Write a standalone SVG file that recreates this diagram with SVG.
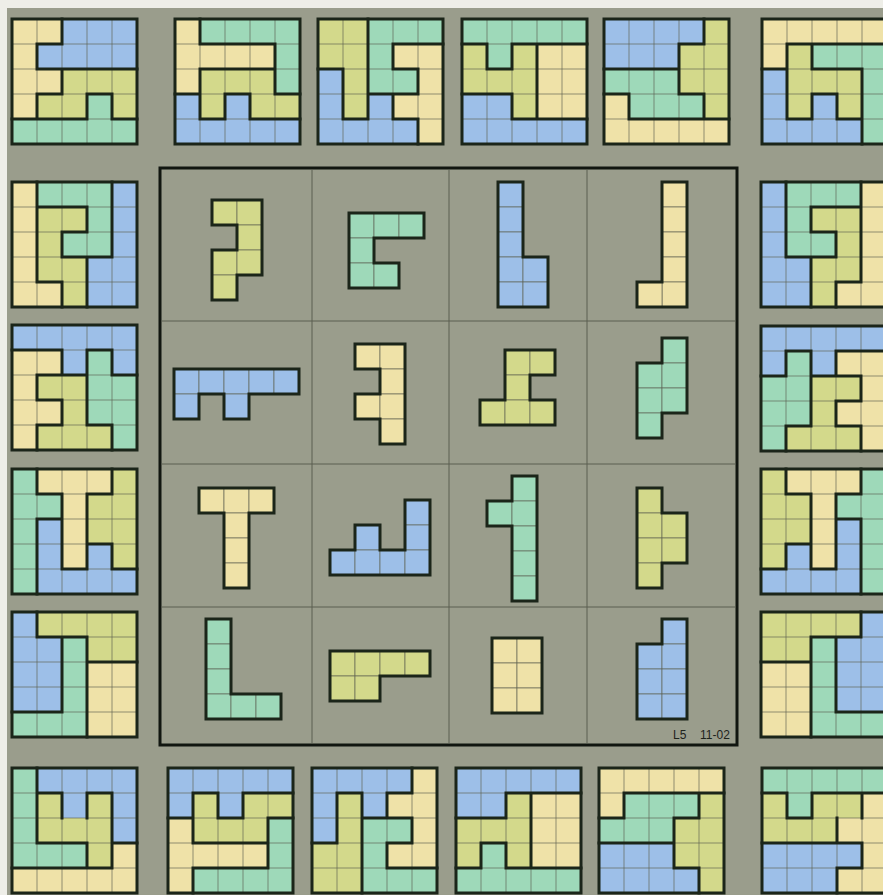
<svg xmlns="http://www.w3.org/2000/svg" xmlns:xlink="http://www.w3.org/1999/xlink" width="883" height="895" viewBox="0 0 883 895">
<style>
.Y{fill:#efe2a8}.B{fill:#9dbfe8}.G{fill:#9ed9b9}.L{fill:#d3d98b}
.grid{fill:none;stroke:#5d6152;stroke-opacity:.65;stroke-width:1;vector-effect:non-scaling-stroke}
.thick{fill:none;stroke:#1b2519;stroke-width:3;stroke-linecap:square;vector-effect:non-scaling-stroke}
.pc rect{stroke:#5d6152;stroke-opacity:.65;stroke-width:1;vector-effect:non-scaling-stroke}
.div{stroke:#5a5e50;stroke-width:1;fill:none}
.lbl{font-family:"Liberation Sans",Arial,sans-serif;font-size:12px;fill:#1e231c}
</style>
<defs>
<path id="g5" class="grid" d="M0 1H5M0 2H5M0 3H5M0 4H5M1 0V5M2 0V5M3 0V5M4 0V5"/>
<rect id="fr" class="thick" x="0" y="0" width="5" height="5"/>
</defs>
<rect x="0" y="0" width="883" height="895" fill="#9a9d8c"/>
<rect x="0" y="0" width="883" height="8" fill="#eeeee8"/>
<rect x="0" y="0" width="7" height="895" fill="#eeeee8"/>

<!-- top row -->
<g id="board-t1" transform="translate(12 19) scale(25)">
<rect class="Y" x="0" y="0" width="2" height="1"/><rect class="B" x="2" y="0" width="3" height="1"/>
<rect class="Y" x="0" y="1" width="1" height="1"/><rect class="B" x="1" y="1" width="4" height="1"/>
<rect class="Y" x="0" y="2" width="2" height="1"/><rect class="L" x="2" y="2" width="3" height="1"/>
<rect class="Y" x="0" y="3" width="1" height="1"/><rect class="L" x="1" y="3" width="2" height="1"/><rect class="G" x="3" y="3" width="1" height="1"/><rect class="L" x="4" y="3" width="1" height="1"/>
<rect class="G" x="0" y="4" width="5" height="1"/>
<use xlink:href="#g5"/>
<path class="thick" d="M1 1H2M1 2H5M1 3H2M3 3H4M0 4H3M4 4H5M1 1V2M1 3V4M2 0V1M2 2V3M3 3V4M4 3V4"/>
<use xlink:href="#fr"/>
</g>
<g id="board-t2" transform="translate(175 19) scale(25)">
<rect class="Y" x="0" y="0" width="1" height="1"/><rect class="G" x="1" y="0" width="4" height="1"/>
<rect class="Y" x="0" y="1" width="4" height="1"/><rect class="G" x="4" y="1" width="1" height="1"/>
<rect class="Y" x="0" y="2" width="1" height="1"/><rect class="L" x="1" y="2" width="3" height="1"/><rect class="G" x="4" y="2" width="1" height="1"/>
<rect class="B" x="0" y="3" width="1" height="1"/><rect class="L" x="1" y="3" width="1" height="1"/><rect class="B" x="2" y="3" width="1" height="1"/><rect class="L" x="3" y="3" width="2" height="1"/>
<rect class="B" x="0" y="4" width="5" height="1"/>
<use xlink:href="#g5"/>
<path class="thick" d="M1 1H4M1 2H4M0 3H1M2 3H3M4 3H5M1 4H2M3 4H5M1 0V1M1 2V4M2 3V4M3 3V4M4 1V3"/>
<use xlink:href="#fr"/>
</g>
<g id="board-t3" transform="translate(318 19) scale(25)">
<rect class="L" x="0" y="0" width="2" height="1"/><rect class="G" x="2" y="0" width="3" height="1"/>
<rect class="L" x="0" y="1" width="2" height="1"/><rect class="G" x="2" y="1" width="1" height="1"/><rect class="Y" x="3" y="1" width="2" height="1"/>
<rect class="B" x="0" y="2" width="1" height="1"/><rect class="L" x="1" y="2" width="1" height="1"/><rect class="G" x="2" y="2" width="2" height="1"/><rect class="Y" x="4" y="2" width="1" height="1"/>
<rect class="B" x="0" y="3" width="1" height="1"/><rect class="L" x="1" y="3" width="1" height="1"/><rect class="B" x="2" y="3" width="1" height="1"/><rect class="Y" x="3" y="3" width="2" height="1"/>
<rect class="B" x="0" y="4" width="4" height="1"/><rect class="Y" x="4" y="4" width="1" height="1"/>
<use xlink:href="#g5"/>
<path class="thick" d="M3 1H5M0 2H1M3 2H4M2 3H4M1 4H2M3 4H4M1 2V4M2 0V4M3 1V2M3 3V4M4 2V3M4 4V5"/>
<use xlink:href="#fr"/>
</g>
<g id="board-t4" transform="translate(462 19) scale(25)">
<rect class="G" x="0" y="0" width="5" height="1"/>
<rect class="L" x="0" y="1" width="1" height="1"/><rect class="G" x="1" y="1" width="1" height="1"/><rect class="L" x="2" y="1" width="1" height="1"/><rect class="Y" x="3" y="1" width="2" height="1"/>
<rect class="L" x="0" y="2" width="3" height="1"/><rect class="Y" x="3" y="2" width="2" height="1"/>
<rect class="B" x="0" y="3" width="2" height="1"/><rect class="L" x="2" y="3" width="1" height="1"/><rect class="Y" x="3" y="3" width="2" height="1"/>
<rect class="B" x="0" y="4" width="5" height="1"/>
<use xlink:href="#g5"/>
<path class="thick" d="M0 1H1M2 1H5M1 2H2M0 3H2M2 4H5M1 1V2M2 1V2M2 3V4M3 1V4"/>
<use xlink:href="#fr"/>
</g>
<g id="board-t5" transform="translate(604 19) scale(25)">
<rect class="B" x="0" y="0" width="4" height="1"/><rect class="L" x="4" y="0" width="1" height="1"/>
<rect class="B" x="0" y="1" width="3" height="1"/><rect class="L" x="3" y="1" width="2" height="1"/>
<rect class="G" x="0" y="2" width="3" height="1"/><rect class="L" x="3" y="2" width="2" height="1"/>
<rect class="Y" x="0" y="3" width="1" height="1"/><rect class="G" x="1" y="3" width="3" height="1"/><rect class="L" x="4" y="3" width="1" height="1"/>
<rect class="Y" x="0" y="4" width="5" height="1"/>
<use xlink:href="#g5"/>
<path class="thick" d="M3 1H4M0 2H3M0 3H1M3 3H4M1 4H5M1 3V4M3 1V3M4 0V1M4 3V4"/>
<use xlink:href="#fr"/>
</g>
<g id="board-t6" transform="translate(762 19) scale(25)">
<rect class="Y" x="0" y="0" width="5" height="1"/>
<rect class="Y" x="0" y="1" width="1" height="1"/><rect class="L" x="1" y="1" width="1" height="1"/><rect class="G" x="2" y="1" width="3" height="1"/>
<rect class="B" x="0" y="2" width="1" height="1"/><rect class="L" x="1" y="2" width="3" height="1"/><rect class="G" x="4" y="2" width="1" height="1"/>
<rect class="B" x="0" y="3" width="1" height="1"/><rect class="L" x="1" y="3" width="1" height="1"/><rect class="B" x="2" y="3" width="1" height="1"/><rect class="L" x="3" y="3" width="1" height="1"/><rect class="G" x="4" y="3" width="1" height="1"/>
<rect class="B" x="0" y="4" width="4" height="1"/><rect class="G" x="4" y="4" width="1" height="1"/>
<use xlink:href="#g5"/>
<path class="thick" d="M1 1H5M0 2H1M2 2H4M2 3H3M1 4H2M3 4H4M1 1V4M2 1V2M2 3V4M3 3V4M4 2V5"/>
<use xlink:href="#fr"/>
</g>

<!-- left column -->
<g id="board-l1" transform="translate(12 182) scale(25)">
<rect class="Y" x="0" y="0" width="1" height="1"/><rect class="G" x="1" y="0" width="3" height="1"/><rect class="B" x="4" y="0" width="1" height="1"/>
<rect class="Y" x="0" y="1" width="1" height="1"/><rect class="L" x="1" y="1" width="2" height="1"/><rect class="G" x="3" y="1" width="1" height="1"/><rect class="B" x="4" y="1" width="1" height="1"/>
<rect class="Y" x="0" y="2" width="1" height="1"/><rect class="L" x="1" y="2" width="1" height="1"/><rect class="G" x="2" y="2" width="2" height="1"/><rect class="B" x="4" y="2" width="1" height="1"/>
<rect class="Y" x="0" y="3" width="1" height="1"/><rect class="L" x="1" y="3" width="2" height="1"/><rect class="B" x="3" y="3" width="2" height="1"/>
<rect class="Y" x="0" y="4" width="2" height="1"/><rect class="L" x="2" y="4" width="1" height="1"/><rect class="B" x="3" y="4" width="2" height="1"/>
<use xlink:href="#g5"/>
<path class="thick" d="M1 1H3M2 2H3M2 3H4M1 4H2M1 0V4M2 2V3M2 4V5M3 1V2M3 3V5M4 0V3"/>
<use xlink:href="#fr"/>
</g>
<g id="board-l2" transform="translate(12 325) scale(25)">
<rect class="B" x="0" y="0" width="5" height="1"/>
<rect class="Y" x="0" y="1" width="2" height="1"/><rect class="B" x="2" y="1" width="1" height="1"/><rect class="G" x="3" y="1" width="1" height="1"/><rect class="B" x="4" y="1" width="1" height="1"/>
<rect class="Y" x="0" y="2" width="1" height="1"/><rect class="L" x="1" y="2" width="2" height="1"/><rect class="G" x="3" y="2" width="2" height="1"/>
<rect class="Y" x="0" y="3" width="2" height="1"/><rect class="L" x="2" y="3" width="1" height="1"/><rect class="G" x="3" y="3" width="2" height="1"/>
<rect class="Y" x="0" y="4" width="1" height="1"/><rect class="L" x="1" y="4" width="3" height="1"/><rect class="G" x="4" y="4" width="1" height="1"/>
<use xlink:href="#g5"/>
<path class="thick" d="M0 1H2M3 1H4M1 2H3M4 2H5M1 3H2M1 4H2M3 4H4M1 2V3M1 4V5M2 1V2M2 3V4M3 1V4M4 1V2M4 4V5"/>
<use xlink:href="#fr"/>
</g>
<g id="board-l3" transform="translate(12 469) scale(25)">
<rect class="G" x="0" y="0" width="1" height="1"/><rect class="Y" x="1" y="0" width="3" height="1"/><rect class="L" x="4" y="0" width="1" height="1"/>
<rect class="G" x="0" y="1" width="2" height="1"/><rect class="Y" x="2" y="1" width="1" height="1"/><rect class="L" x="3" y="1" width="2" height="1"/>
<rect class="G" x="0" y="2" width="1" height="1"/><rect class="B" x="1" y="2" width="1" height="1"/><rect class="Y" x="2" y="2" width="1" height="1"/><rect class="L" x="3" y="2" width="2" height="1"/>
<rect class="G" x="0" y="3" width="1" height="1"/><rect class="B" x="1" y="3" width="1" height="1"/><rect class="Y" x="2" y="3" width="1" height="1"/><rect class="B" x="3" y="3" width="1" height="1"/><rect class="L" x="4" y="3" width="1" height="1"/>
<rect class="G" x="0" y="4" width="1" height="1"/><rect class="B" x="1" y="4" width="4" height="1"/>
<use xlink:href="#g5"/>
<path class="thick" d="M1 1H2M3 1H4M1 2H2M3 3H4M2 4H3M4 4H5M1 0V1M1 2V5M2 1V4M3 1V4M4 0V1M4 3V4"/>
<use xlink:href="#fr"/>
</g>
<g id="board-l4" transform="translate(12 612) scale(25)">
<rect class="B" x="0" y="0" width="1" height="1"/><rect class="L" x="1" y="0" width="4" height="1"/>
<rect class="B" x="0" y="1" width="2" height="1"/><rect class="G" x="2" y="1" width="1" height="1"/><rect class="L" x="3" y="1" width="2" height="1"/>
<rect class="B" x="0" y="2" width="2" height="1"/><rect class="G" x="2" y="2" width="1" height="1"/><rect class="Y" x="3" y="2" width="2" height="1"/>
<rect class="B" x="0" y="3" width="2" height="1"/><rect class="G" x="2" y="3" width="1" height="1"/><rect class="Y" x="3" y="3" width="2" height="1"/>
<rect class="G" x="0" y="4" width="3" height="1"/><rect class="Y" x="3" y="4" width="2" height="1"/>
<use xlink:href="#g5"/>
<path class="thick" d="M1 1H3M3 2H5M0 4H2M1 0V1M2 1V4M3 1V5"/>
<use xlink:href="#fr"/>
</g>

<!-- right column -->
<g id="board-r1" transform="translate(761 182) scale(25)">
<rect class="B" x="0" y="0" width="1" height="1"/><rect class="G" x="1" y="0" width="3" height="1"/><rect class="Y" x="4" y="0" width="1" height="1"/>
<rect class="B" x="0" y="1" width="1" height="1"/><rect class="G" x="1" y="1" width="1" height="1"/><rect class="L" x="2" y="1" width="2" height="1"/><rect class="Y" x="4" y="1" width="1" height="1"/>
<rect class="B" x="0" y="2" width="1" height="1"/><rect class="G" x="1" y="2" width="2" height="1"/><rect class="L" x="3" y="2" width="1" height="1"/><rect class="Y" x="4" y="2" width="1" height="1"/>
<rect class="B" x="0" y="3" width="2" height="1"/><rect class="L" x="2" y="3" width="2" height="1"/><rect class="Y" x="4" y="3" width="1" height="1"/>
<rect class="B" x="0" y="4" width="2" height="1"/><rect class="L" x="2" y="4" width="1" height="1"/><rect class="Y" x="3" y="4" width="2" height="1"/>
<use xlink:href="#g5"/>
<path class="thick" d="M2 1H4M2 2H3M1 3H3M3 4H4M1 0V3M2 1V2M2 3V5M3 2V3M3 4V5M4 0V4"/>
<use xlink:href="#fr"/>
</g>
<g id="board-r2" transform="translate(761 326) scale(25)">
<rect class="B" x="0" y="0" width="5" height="1"/>
<rect class="B" x="0" y="1" width="1" height="1"/><rect class="G" x="1" y="1" width="1" height="1"/><rect class="B" x="2" y="1" width="1" height="1"/><rect class="Y" x="3" y="1" width="2" height="1"/>
<rect class="G" x="0" y="2" width="2" height="1"/><rect class="L" x="2" y="2" width="2" height="1"/><rect class="Y" x="4" y="2" width="1" height="1"/>
<rect class="G" x="0" y="3" width="2" height="1"/><rect class="L" x="2" y="3" width="1" height="1"/><rect class="Y" x="3" y="3" width="2" height="1"/>
<rect class="G" x="0" y="4" width="1" height="1"/><rect class="L" x="1" y="4" width="3" height="1"/><rect class="Y" x="4" y="4" width="1" height="1"/>
<use xlink:href="#g5"/>
<path class="thick" d="M1 1H2M3 1H5M0 2H1M2 2H4M3 3H4M1 4H2M3 4H4M1 1V2M1 4V5M2 1V4M3 1V2M3 3V4M4 2V3M4 4V5"/>
<use xlink:href="#fr"/>
</g>
<g id="board-r3" transform="translate(761 469) scale(25)">
<rect class="L" x="0" y="0" width="1" height="1"/><rect class="Y" x="1" y="0" width="3" height="1"/><rect class="G" x="4" y="0" width="1" height="1"/>
<rect class="L" x="0" y="1" width="2" height="1"/><rect class="Y" x="2" y="1" width="1" height="1"/><rect class="G" x="3" y="1" width="2" height="1"/>
<rect class="L" x="0" y="2" width="2" height="1"/><rect class="Y" x="2" y="2" width="1" height="1"/><rect class="B" x="3" y="2" width="1" height="1"/><rect class="G" x="4" y="2" width="1" height="1"/>
<rect class="L" x="0" y="3" width="1" height="1"/><rect class="B" x="1" y="3" width="1" height="1"/><rect class="Y" x="2" y="3" width="1" height="1"/><rect class="B" x="3" y="3" width="1" height="1"/><rect class="G" x="4" y="3" width="1" height="1"/>
<rect class="B" x="0" y="4" width="4" height="1"/><rect class="G" x="4" y="4" width="1" height="1"/>
<use xlink:href="#g5"/>
<path class="thick" d="M1 1H2M3 1H4M3 2H4M1 3H2M0 4H1M2 4H3M1 0V1M1 3V4M2 1V4M3 1V4M4 0V1M4 2V5"/>
<use xlink:href="#fr"/>
</g>
<g id="board-r4" transform="translate(761 612) scale(25)">
<rect class="L" x="0" y="0" width="4" height="1"/><rect class="B" x="4" y="0" width="1" height="1"/>
<rect class="L" x="0" y="1" width="2" height="1"/><rect class="G" x="2" y="1" width="1" height="1"/><rect class="B" x="3" y="1" width="2" height="1"/>
<rect class="Y" x="0" y="2" width="2" height="1"/><rect class="G" x="2" y="2" width="1" height="1"/><rect class="B" x="3" y="2" width="2" height="1"/>
<rect class="Y" x="0" y="3" width="2" height="1"/><rect class="G" x="2" y="3" width="1" height="1"/><rect class="B" x="3" y="3" width="2" height="1"/>
<rect class="Y" x="0" y="4" width="2" height="1"/><rect class="G" x="2" y="4" width="3" height="1"/>
<use xlink:href="#g5"/>
<path class="thick" d="M2 1H4M0 2H2M3 4H5M2 1V5M3 1V4M4 0V1"/>
<use xlink:href="#fr"/>
</g>

<!-- bottom row -->
<g id="board-b1" transform="translate(12 768) scale(25)">
<rect class="G" x="0" y="0" width="1" height="1"/><rect class="B" x="1" y="0" width="4" height="1"/>
<rect class="G" x="0" y="1" width="1" height="1"/><rect class="L" x="1" y="1" width="1" height="1"/><rect class="B" x="2" y="1" width="1" height="1"/><rect class="L" x="3" y="1" width="1" height="1"/><rect class="B" x="4" y="1" width="1" height="1"/>
<rect class="G" x="0" y="2" width="1" height="1"/><rect class="L" x="1" y="2" width="3" height="1"/><rect class="B" x="4" y="2" width="1" height="1"/>
<rect class="G" x="0" y="3" width="3" height="1"/><rect class="L" x="3" y="3" width="1" height="1"/><rect class="Y" x="4" y="3" width="1" height="1"/>
<rect class="Y" x="0" y="4" width="5" height="1"/>
<use xlink:href="#g5"/>
<path class="thick" d="M1 1H2M3 1H4M1 3H3M4 3H5M0 4H4M1 0V3M2 1V2M3 1V2M3 3V4M4 1V4"/>
<use xlink:href="#fr"/>
</g>
<g id="board-b2" transform="translate(168 768) scale(25)">
<rect class="B" x="0" y="0" width="5" height="1"/>
<rect class="B" x="0" y="1" width="1" height="1"/><rect class="L" x="1" y="1" width="1" height="1"/><rect class="B" x="2" y="1" width="1" height="1"/><rect class="L" x="3" y="1" width="2" height="1"/>
<rect class="Y" x="0" y="2" width="1" height="1"/><rect class="L" x="1" y="2" width="3" height="1"/><rect class="G" x="4" y="2" width="1" height="1"/>
<rect class="Y" x="0" y="3" width="4" height="1"/><rect class="G" x="4" y="3" width="1" height="1"/>
<rect class="Y" x="0" y="4" width="1" height="1"/><rect class="G" x="1" y="4" width="4" height="1"/>
<use xlink:href="#g5"/>
<path class="thick" d="M1 1H2M3 1H5M0 2H1M2 2H3M4 2H5M1 3H4M1 4H4M1 1V3M1 4V5M2 1V2M3 1V2M4 2V4"/>
<use xlink:href="#fr"/>
</g>
<g id="board-b3" transform="translate(312 768) scale(25)">
<rect class="B" x="0" y="0" width="4" height="1"/><rect class="Y" x="4" y="0" width="1" height="1"/>
<rect class="B" x="0" y="1" width="1" height="1"/><rect class="L" x="1" y="1" width="1" height="1"/><rect class="B" x="2" y="1" width="1" height="1"/><rect class="Y" x="3" y="1" width="2" height="1"/>
<rect class="B" x="0" y="2" width="1" height="1"/><rect class="L" x="1" y="2" width="1" height="1"/><rect class="G" x="2" y="2" width="2" height="1"/><rect class="Y" x="4" y="2" width="1" height="1"/>
<rect class="L" x="0" y="3" width="2" height="1"/><rect class="G" x="2" y="3" width="1" height="1"/><rect class="Y" x="3" y="3" width="2" height="1"/>
<rect class="L" x="0" y="4" width="2" height="1"/><rect class="G" x="2" y="4" width="3" height="1"/>
<use xlink:href="#g5"/>
<path class="thick" d="M1 1H2M3 1H4M2 2H4M0 3H1M3 3H4M3 4H5M1 1V3M2 1V5M3 1V2M3 3V4M4 0V1M4 2V3"/>
<use xlink:href="#fr"/>
</g>
<g id="board-b4" transform="translate(456 768) scale(25)">
<rect class="B" x="0" y="0" width="5" height="1"/>
<rect class="B" x="0" y="1" width="2" height="1"/><rect class="L" x="2" y="1" width="1" height="1"/><rect class="Y" x="3" y="1" width="2" height="1"/>
<rect class="L" x="0" y="2" width="3" height="1"/><rect class="Y" x="3" y="2" width="2" height="1"/>
<rect class="L" x="0" y="3" width="1" height="1"/><rect class="G" x="1" y="3" width="1" height="1"/><rect class="L" x="2" y="3" width="1" height="1"/><rect class="Y" x="3" y="3" width="2" height="1"/>
<rect class="G" x="0" y="4" width="5" height="1"/>
<use xlink:href="#g5"/>
<path class="thick" d="M2 1H5M0 2H2M1 3H2M0 4H1M2 4H5M1 3V4M2 1V2M2 3V4M3 1V4"/>
<use xlink:href="#fr"/>
</g>
<g id="board-b5" transform="translate(599 768) scale(25)">
<rect class="Y" x="0" y="0" width="5" height="1"/>
<rect class="Y" x="0" y="1" width="1" height="1"/><rect class="G" x="1" y="1" width="3" height="1"/><rect class="L" x="4" y="1" width="1" height="1"/>
<rect class="G" x="0" y="2" width="3" height="1"/><rect class="L" x="3" y="2" width="2" height="1"/>
<rect class="B" x="0" y="3" width="3" height="1"/><rect class="L" x="3" y="3" width="2" height="1"/>
<rect class="B" x="0" y="4" width="4" height="1"/><rect class="L" x="4" y="4" width="1" height="1"/>
<use xlink:href="#g5"/>
<path class="thick" d="M1 1H5M0 2H1M3 2H4M0 3H3M3 4H4M1 1V2M3 2V4M4 1V2M4 4V5"/>
<use xlink:href="#fr"/>
</g>
<g id="board-b6" transform="translate(762 768) scale(25)">
<rect class="G" x="0" y="0" width="5" height="1"/>
<rect class="L" x="0" y="1" width="1" height="1"/><rect class="G" x="1" y="1" width="1" height="1"/><rect class="L" x="2" y="1" width="2" height="1"/><rect class="Y" x="4" y="1" width="1" height="1"/>
<rect class="L" x="0" y="2" width="3" height="1"/><rect class="Y" x="3" y="2" width="2" height="1"/>
<rect class="B" x="0" y="3" width="4" height="1"/><rect class="Y" x="4" y="3" width="1" height="1"/>
<rect class="B" x="0" y="4" width="3" height="1"/><rect class="Y" x="3" y="4" width="2" height="1"/>
<use xlink:href="#g5"/>
<path class="thick" d="M0 1H1M2 1H5M1 2H2M0 3H4M3 4H4M1 1V2M2 1V2M3 2V3M3 4V5M4 1V2M4 3V4"/>
<use xlink:href="#fr"/>
</g>

<!-- central board -->
<g id="center-board">
<rect x="160" y="168" width="577" height="577" fill="#9a9d8c"/>
<path class="div" d="M312 170V743M449 170V743M587 170V743M162 321H735M162 464H735M162 607H735"/>
<rect x="160" y="168" width="577" height="577" fill="none" stroke="#111610" stroke-width="3"/>
</g>

<g id="piece-1" class="pc L" transform="translate(212 200) scale(25)">
<rect x="0" y="0" width="1" height="1"/><rect x="1" y="0" width="1" height="1"/><rect x="1" y="1" width="1" height="1"/><rect x="0" y="2" width="1" height="1"/><rect x="1" y="2" width="1" height="1"/><rect x="0" y="3" width="1" height="1"/>
<path class="thick" d="M0 0H2V3H1V4H0V2H1V1H0Z"/>
</g>
<g id="piece-2" class="pc G" transform="translate(349 213) scale(25)">
<rect x="0" y="0" width="1" height="1"/><rect x="1" y="0" width="1" height="1"/><rect x="2" y="0" width="1" height="1"/><rect x="0" y="1" width="1" height="1"/><rect x="0" y="2" width="1" height="1"/><rect x="1" y="2" width="1" height="1"/>
<path class="thick" d="M0 0H3V1H1V2H2V3H0Z"/>
</g>
<g id="piece-3" class="pc B" transform="translate(498 182) scale(25)">
<rect x="0" y="0" width="1" height="1"/><rect x="0" y="1" width="1" height="1"/><rect x="0" y="2" width="1" height="1"/><rect x="0" y="3" width="1" height="1"/><rect x="0" y="4" width="1" height="1"/><rect x="1" y="3" width="1" height="1"/><rect x="1" y="4" width="1" height="1"/>
<path class="thick" d="M0 0H1V3H2V5H0Z"/>
</g>
<g id="piece-4" class="pc Y" transform="translate(637 182) scale(25)">
<rect x="1" y="0" width="1" height="1"/><rect x="1" y="1" width="1" height="1"/><rect x="1" y="2" width="1" height="1"/><rect x="1" y="3" width="1" height="1"/><rect x="1" y="4" width="1" height="1"/><rect x="0" y="4" width="1" height="1"/>
<path class="thick" d="M1 0H2V5H0V4H1Z"/>
</g>
<g id="piece-5" class="pc B" transform="translate(174 369) scale(25)">
<rect x="0" y="0" width="1" height="1"/><rect x="1" y="0" width="1" height="1"/><rect x="2" y="0" width="1" height="1"/><rect x="3" y="0" width="1" height="1"/><rect x="4" y="0" width="1" height="1"/><rect x="0" y="1" width="1" height="1"/><rect x="2" y="1" width="1" height="1"/>
<path class="thick" d="M0 0H5V1H3V2H2V1H1V2H0Z"/>
</g>
<g id="piece-6" class="pc Y" transform="translate(355 344) scale(25)">
<rect x="0" y="0" width="1" height="1"/><rect x="1" y="0" width="1" height="1"/><rect x="1" y="1" width="1" height="1"/><rect x="0" y="2" width="1" height="1"/><rect x="1" y="2" width="1" height="1"/><rect x="1" y="3" width="1" height="1"/>
<path class="thick" d="M0 0H2V4H1V3H0V2H1V1H0Z"/>
</g>
<g id="piece-7" class="pc L" transform="translate(480 350) scale(25)">
<rect x="1" y="0" width="1" height="1"/><rect x="2" y="0" width="1" height="1"/><rect x="1" y="1" width="1" height="1"/><rect x="0" y="2" width="1" height="1"/><rect x="1" y="2" width="1" height="1"/><rect x="2" y="2" width="1" height="1"/>
<path class="thick" d="M1 0H3V1H2V2H3V3H0V2H1Z"/>
</g>
<g id="piece-8" class="pc G" transform="translate(637 338) scale(25)">
<rect x="1" y="0" width="1" height="1"/><rect x="0" y="1" width="1" height="1"/><rect x="1" y="1" width="1" height="1"/><rect x="0" y="2" width="1" height="1"/><rect x="1" y="2" width="1" height="1"/><rect x="0" y="3" width="1" height="1"/>
<path class="thick" d="M1 0H2V3H1V4H0V1H1Z"/>
</g>
<g id="piece-9" class="pc Y" transform="translate(199 488) scale(25)">
<rect x="0" y="0" width="1" height="1"/><rect x="1" y="0" width="1" height="1"/><rect x="2" y="0" width="1" height="1"/><rect x="1" y="1" width="1" height="1"/><rect x="1" y="2" width="1" height="1"/><rect x="1" y="3" width="1" height="1"/>
<path class="thick" d="M0 0H3V1H2V4H1V1H0Z"/>
</g>
<g id="piece-10" class="pc B" transform="translate(330 500) scale(25)">
<rect x="3" y="0" width="1" height="1"/><rect x="1" y="1" width="1" height="1"/><rect x="3" y="1" width="1" height="1"/><rect x="0" y="2" width="1" height="1"/><rect x="1" y="2" width="1" height="1"/><rect x="2" y="2" width="1" height="1"/><rect x="3" y="2" width="1" height="1"/>
<path class="thick" d="M3 0H4V3H0V2H1V1H2V2H3Z"/>
</g>
<g id="piece-11" class="pc G" transform="translate(487 476) scale(25)">
<rect x="1" y="0" width="1" height="1"/><rect x="0" y="1" width="1" height="1"/><rect x="1" y="1" width="1" height="1"/><rect x="1" y="2" width="1" height="1"/><rect x="1" y="3" width="1" height="1"/><rect x="1" y="4" width="1" height="1"/>
<path class="thick" d="M1 0H2V5H1V2H0V1H1Z"/>
</g>
<g id="piece-12" class="pc L" transform="translate(637 488) scale(25)">
<rect x="0" y="0" width="1" height="1"/><rect x="0" y="1" width="1" height="1"/><rect x="1" y="1" width="1" height="1"/><rect x="0" y="2" width="1" height="1"/><rect x="1" y="2" width="1" height="1"/><rect x="0" y="3" width="1" height="1"/>
<path class="thick" d="M0 0H1V1H2V3H1V4H0Z"/>
</g>
<g id="piece-13" class="pc G" transform="translate(206 619) scale(25)">
<rect x="0" y="0" width="1" height="1"/><rect x="0" y="1" width="1" height="1"/><rect x="0" y="2" width="1" height="1"/><rect x="0" y="3" width="1" height="1"/><rect x="1" y="3" width="1" height="1"/><rect x="2" y="3" width="1" height="1"/>
<path class="thick" d="M0 0H1V3H3V4H0Z"/>
</g>
<g id="piece-14" class="pc L" transform="translate(330 651) scale(25)">
<rect x="0" y="0" width="1" height="1"/><rect x="1" y="0" width="1" height="1"/><rect x="2" y="0" width="1" height="1"/><rect x="3" y="0" width="1" height="1"/><rect x="0" y="1" width="1" height="1"/><rect x="1" y="1" width="1" height="1"/>
<path class="thick" d="M0 0H4V1H2V2H0Z"/>
</g>
<g id="piece-15" class="pc Y" transform="translate(492 638) scale(25)">
<rect x="0" y="0" width="1" height="1"/><rect x="1" y="0" width="1" height="1"/><rect x="0" y="1" width="1" height="1"/><rect x="1" y="1" width="1" height="1"/><rect x="0" y="2" width="1" height="1"/><rect x="1" y="2" width="1" height="1"/>
<path class="thick" d="M0 0H2V3H0Z"/>
</g>
<g id="piece-16" class="pc B" transform="translate(637 619) scale(25)">
<rect x="1" y="0" width="1" height="1"/><rect x="0" y="1" width="1" height="1"/><rect x="1" y="1" width="1" height="1"/><rect x="0" y="2" width="1" height="1"/><rect x="1" y="2" width="1" height="1"/><rect x="0" y="3" width="1" height="1"/><rect x="1" y="3" width="1" height="1"/>
<path class="thick" d="M1 0H2V4H0V1H1Z"/>
</g>

<g id="label">
<text class="lbl" y="739"><tspan x="673">L5</tspan><tspan x="700">11-02</tspan></text>
</g>
<g id="connectors"/>
</svg>
